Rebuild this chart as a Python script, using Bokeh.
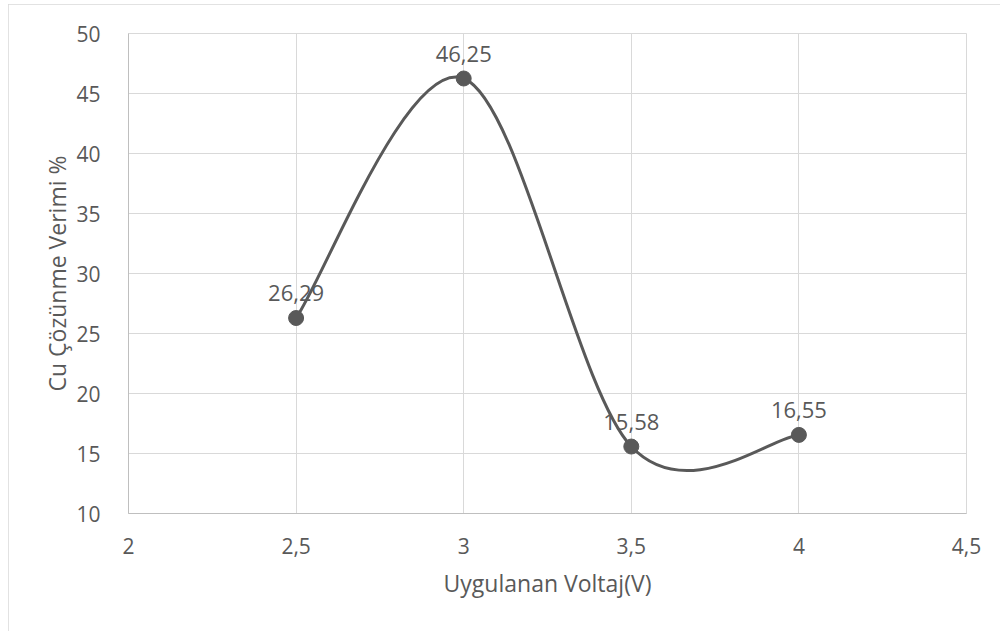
from bokeh.plotting import figure
from bokeh.models import FixedTicker, Range1d, ColumnDataSource
from bokeh.core.properties import value
from bokeh.embed import file_html
from bokeh.resources import INLINE

# Data
voltages = [2.5, 3.0, 3.5, 4.0]
efficiency = [26.29, 46.25, 15.58, 16.55]
point_labels = ["26,29", "46,25", "15,58", "16,55"]
x_ticks = [2.0, 2.5, 3.0, 3.5, 4.0, 4.5]
x_tick_labels = ["2", "2,5", "3", "3,5", "4", "4,5"]
y_ticks = [10, 15, 20, 25, 30, 35, 40, 45, 50]

FONT = "Open Sans"
TXT = "#595959"
LINE = "#595959"

p = figure(width=1000, height=627, output_backend="svg", toolbar_location=None,
           x_range=Range1d(2, 4.5), y_range=Range1d(10, 50),
           min_border_left=120, min_border_right=42, min_border_top=29, min_border_bottom=118)
p.margin = (4, 0, 0, 8)
p.styles = {"outline": "1px solid #d9d9d9", "outline-offset": "-1px"}
p.background_fill_color = "white"
p.border_fill_color = "white"
p.outline_line_color = "#d9d9d9"

for ax in (p.xaxis[0], p.yaxis[0]):
    ax.axis_line_color = "#bfbfbf"
    ax.axis_line_width = 1
    ax.major_tick_line_color = None
    ax.minor_tick_line_color = None
    ax.major_label_text_font = FONT
    ax.major_label_text_font_size = "21px"
    ax.major_label_text_color = TXT
    ax.axis_label_text_font = FONT
    ax.axis_label_text_font_size = "23px"
    ax.axis_label_text_color = TXT
    ax.axis_label_text_font_style = "normal"

p.xaxis.ticker = FixedTicker(ticks=x_ticks)
p.xaxis.major_label_overrides = {t: l for t, l in zip(x_ticks, x_tick_labels)}
p.yaxis.ticker = FixedTicker(ticks=y_ticks)
p.xaxis.axis_label = "Uygulanan Voltaj(V)"
p.yaxis.axis_label = "Cu Çözünme Verimi %"
p.xaxis.major_label_standoff = 18
p.yaxis.major_label_standoff = 22
p.xaxis.axis_label_standoff = 10
p.yaxis.axis_label_standoff = 0

p.xgrid.grid_line_color = "#d9d9d9"
p.ygrid.grid_line_color = "#d9d9d9"
p.xgrid.ticker = FixedTicker(ticks=x_ticks)
p.ygrid.ticker = FixedTicker(ticks=y_ticks)

# Smoothed line (Catmull-Rom style Bezier like Excel)
n = len(voltages)
x0s, y0s, x1s, y1s, cx0, cy0, cx1, cy1 = [], [], [], [], [], [], [], []
for i in range(n - 1):
    pm = (voltages[max(i - 1, 0)], efficiency[max(i - 1, 0)])
    pa = (voltages[i], efficiency[i])
    pb = (voltages[i + 1], efficiency[i + 1])
    pn = (voltages[min(i + 2, n - 1)], efficiency[min(i + 2, n - 1)])
    x0s.append(pa[0]); y0s.append(pa[1]); x1s.append(pb[0]); y1s.append(pb[1])
    cx0.append(pa[0] + (pb[0] - pm[0]) / 6); cy0.append(pa[1] + (pb[1] - pm[1]) / 6)
    cx1.append(pb[0] - (pn[0] - pa[0]) / 6); cy1.append(pb[1] - (pn[1] - pa[1]) / 6)

p.bezier(x0=x0s, y0=y0s, x1=x1s, y1=y1s, cx0=cx0, cy0=cy0, cx1=cx1, cy1=cy1,
         line_color=LINE, line_width=3)

src = ColumnDataSource(dict(x=voltages, y=efficiency, t=point_labels))
p.scatter("x", "y", source=src, size=15, fill_color=LINE, line_color=LINE)
p.text("x", "y", text="t", source=src, text_font=value(FONT), text_font_size="22px",
       text_color=TXT, text_align="center", text_baseline="alphabetic", y_offset=-25)

open("out.html", "w").write(file_html(p, INLINE))
